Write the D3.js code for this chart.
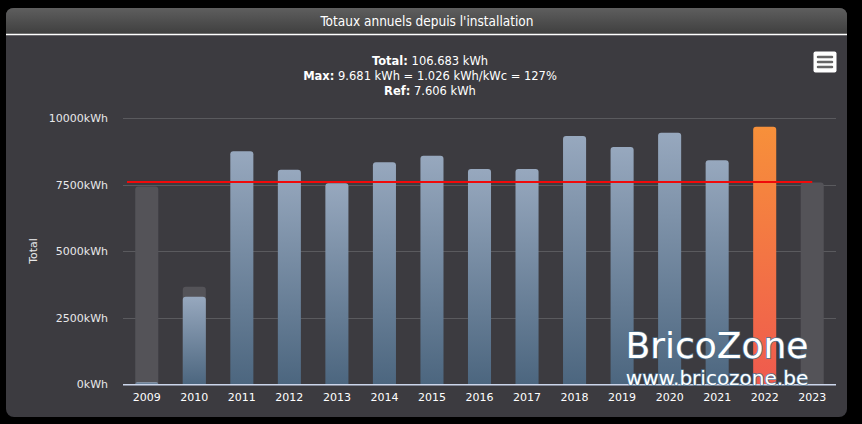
<!DOCTYPE html>
<html>
<head>
<meta charset="utf-8">
<script src="https://cdn.jsdelivr.net/npm/d3@7"></script>
<style>
  html, body { margin: 0; padding: 0; background: #000; }
  svg { display: block; }
</style>
</head>
<body>
<div id="chart"></div>
<script>
// data
var years = ["2009", "2010", "2011", "2012", "2013", "2014", "2015", "2016", "2017", "2018", "2019", "2020", "2021", "2022", "2023"];
var produced = [75, 3290, 8760, 8070, 7560, 8350, 8590, 8090, 8090, 9330, 8920, 9455, 8425, 9681, 0];
var expected = [7440, 3670, 0, 0, 0, 0, 0, 0, 0, 0, 0, 0, 0, 0, 7590];
var refValue = 7606;
var yTicks = [0, 2500, 5000, 7500, 10000];
var headerLines = [
    ["Total:", " 106.683 kWh"],
    ["Max:", " 9.681 kWh = 1.026 kWh/kWc = 127%"],
    ["Ref:", " 7.606 kWh"]
];
var maxYear = "2022";

var W = 862, H = 424;
var svg = d3.select("#chart").append("svg")
        .attr("width", W)
        .attr("height", H);

var defs = svg.append("defs");
var gBlue = defs.append("linearGradient").attr("id", "gBlue")
        .attr("x1", 0).attr("y1", 0).attr("x2", 0).attr("y2", 1);
gBlue.append("stop").attr("offset", "0%").attr("stop-color", "#97a8be");
gBlue.append("stop").attr("offset", "100%").attr("stop-color", "#4c667f");
var gOrange = defs.append("linearGradient").attr("id", "gOrange")
        .attr("x1", 0).attr("y1", 0).attr("x2", 0).attr("y2", 1);
gOrange.append("stop").attr("offset", "0%").attr("stop-color", "#f7903a");
gOrange.append("stop").attr("offset", "100%").attr("stop-color", "#ef5a4e");
var gTitle = defs.append("linearGradient").attr("id", "gTitle")
        .attr("x1", 0).attr("y1", 0).attr("x2", 0).attr("y2", 1);
gTitle.append("stop").attr("offset", "0%").attr("stop-color", "#5e5e5e");
gTitle.append("stop").attr("offset", "100%").attr("stop-color", "#3f3f3f");

// card
svg.append("rect")
        .attr("x", 6).attr("y", 8)
        .attr("width", 841).attr("height", 409)
        .attr("rx", 8)
        .attr("fill", "#3c3b40");
svg.append("path")
        .attr("d", "M6,34 L6,16 Q6,8 14,8 L839,8 Q847,8 847,16 L847,34 Z")
        .attr("fill", "url(#gTitle)");
svg.append("line")
        .attr("x1", 6).attr("x2", 847)
        .attr("y1", 34.5).attr("y2", 34.5)
        .attr("stroke", "#ffffff").attr("stroke-width", 1.5);
svg.append("text")
        .attr("x", 427).attr("y", 26)
        .attr("text-anchor", "middle")
        .attr("font-family", "DejaVu Sans Condensed, DejaVu Sans, sans-serif")
        .attr("font-size", 13.5)
        .attr("fill", "#ffffff")
        .text("Totaux annuels depuis l'installation");

// header text
var head = svg.append("g")
        .attr("font-family", "DejaVu Sans, sans-serif")
        .attr("font-size", 11.5)
        .attr("fill", "#ffffff");
headerLines.forEach(function (l, i) {
    var t = head.append("text")
            .attr("x", 430)
            .attr("y", 65 + i * 15)
            .attr("text-anchor", "middle");
    t.append("tspan").attr("font-weight", "bold").text(l[0]);
    t.append("tspan").text(l[1]);
});

// menu icon
svg.append("rect")
        .attr("x", 813.5).attr("y", 51.5)
        .attr("width", 23).attr("height", 21)
        .attr("rx", 2)
        .attr("fill", "#ffffff");
[57, 62, 67].forEach(function (yy) {
    svg.append("line")
            .attr("x1", 818).attr("x2", 832)
            .attr("y1", yy).attr("y2", yy)
            .attr("stroke", "#666666").attr("stroke-width", 2.5)
            .attr("stroke-linecap", "round");
});

// scales
var x = d3.scaleBand()
        .domain(years)
        .range([123, 836])
        .paddingInner(0.515)
        .paddingOuter(0.2575);
var y = d3.scaleLinear()
        .domain([0, 10000])
        .range([384.3, 118.3]);

// grid
svg.append("g")
        .selectAll("line")
        .data(yTicks.slice(1))
        .enter()
        .append("line")
        .attr("x1", 123).attr("x2", 836)
        .attr("y1", function (d) { return Math.round(y(d)) + 0.5; })
        .attr("y2", function (d) { return Math.round(y(d)) + 0.5; })
        .attr("stroke", "#5a5a5e").attr("stroke-width", 1);

// y axis labels
var yAxis = d3.axisLeft(y)
        .tickValues(yTicks)
        .tickSize(0)
        .tickPadding(0)
        .tickFormat(function (d) { return d + "kWh"; });
var ya = svg.append("g")
        .attr("transform", "translate(108,0)")
        .call(yAxis);
ya.select(".domain").remove();
ya.selectAll("text")
        .attr("font-family", "DejaVu Sans, sans-serif")
        .attr("font-size", 11)
        .attr("fill", "#e8e8ea");

svg.append("text")
        .attr("transform", "translate(37,251) rotate(-90)")
        .attr("text-anchor", "middle")
        .attr("font-family", "DejaVu Sans, sans-serif")
        .attr("font-size", 11)
        .attr("fill", "#e8e8ea")
        .text("Total");

function topRounded(x0, y0, w, h, r) {
    if (h <= 0) return "";
    r = Math.min(r, h, w / 2);
    return "M" + x0 + "," + (y0 + h) +
            "L" + x0 + "," + (y0 + r) +
            "Q" + x0 + "," + y0 + " " + (x0 + r) + "," + y0 +
            "L" + (x0 + w - r) + "," + y0 +
            "Q" + (x0 + w) + "," + y0 + " " + (x0 + w) + "," + (y0 + r) +
            "L" + (x0 + w) + "," + (y0 + h) + "Z";
}

// expected (gray) bars
svg.append("g")
        .selectAll("path")
        .data(years.map(function (d, i) { return {year: d, v: expected[i]}; })
                .filter(function (d) { return d.v > 0; }))
        .enter()
        .append("path")
        .attr("d", function (d) {
            return topRounded(x(d.year), y(d.v), x.bandwidth(), y(0) - y(d.v), 3);
        })
        .attr("fill", "#545358");

// produced bars
svg.append("g")
        .selectAll("path")
        .data(years.map(function (d, i) { return {year: d, v: produced[i]}; })
                .filter(function (d) { return d.v > 0; }))
        .enter()
        .append("path")
        .attr("d", function (d) {
            return topRounded(x(d.year), y(d.v), x.bandwidth(), y(0) - y(d.v), 3);
        })
        .attr("fill", function (d) {
            return d.year === maxYear ? "url(#gOrange)" : "url(#gBlue)";
        });

// axis line
svg.append("line")
        .attr("x1", 123).attr("x2", 836)
        .attr("y1", y(0) + 0.5).attr("y2", y(0) + 0.5)
        .attr("stroke", "#ccd6eb").attr("stroke-width", 1.5);

// x axis labels
var xAxis = d3.axisBottom(x).tickSize(0).tickPadding(9);
var xa = svg.append("g")
        .attr("transform", "translate(0," + y(0) + ")")
        .call(xAxis);
xa.select(".domain").remove();
xa.selectAll("text")
        .attr("font-family", "DejaVu Sans, sans-serif")
        .attr("font-size", 11)
        .attr("fill", "#ffffff");

// reference line
var refLine = d3.line()
        .x(function (d) { return d; })
        .y(function () { return y(refValue); });
svg.append("path")
        .attr("d", refLine([x.range()[0] + 4, x(years[years.length - 1]) + x.bandwidth() / 2]))
        .attr("stroke", "#f00a0a")
        .attr("stroke-width", 2)
        .attr("fill", "none");

// watermark
var wm = svg.append("g")
        .attr("font-family", "DejaVu Sans, sans-serif")
        .attr("fill", "#ffffff")
        .attr("stroke", "#4f7390")
        .attr("stroke-width", 1.5)
        .attr("paint-order", "stroke");
wm.append("text")
        .attr("x", 717).attr("y", 358)
        .attr("text-anchor", "middle")
        .attr("font-size", 36)
        .text("BricoZone");
wm.append("text")
        .attr("x", 717).attr("y", 385)
        .attr("text-anchor", "middle")
        .attr("font-size", 20)
        .text("www.bricozone.be");
</script>
</body>
</html>
